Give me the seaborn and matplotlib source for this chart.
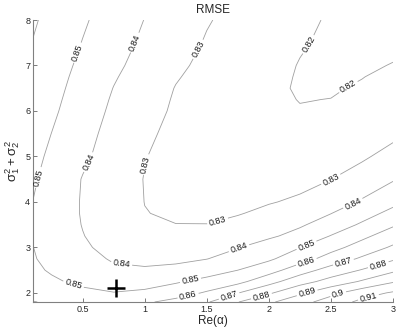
import matplotlib
matplotlib.use("Agg")
import matplotlib.pyplot as plt
import numpy as np
import seaborn as sns

# grid: Re(alpha) along x, sigma1^2+sigma2^2 along y
re_alpha = [0.1, 0.25, 0.5, 0.75, 1.0, 1.25, 1.5, 1.75, 2.0, 2.25, 2.5, 2.75, 3.0]
sigma_sum = [1.8, 2.0, 2.25, 2.5, 2.75, 3.0, 3.25, 3.5, 3.75, 4.0, 4.5, 5.0, 5.5,
             6.0, 6.25, 6.5, 6.75, 7.0, 7.5, 8.0]

# one row per sigma_sum value
rmse_grid = [
    [0.8603, 0.8590, 0.8572, 0.8565, 0.8585, 0.8632, 0.8690, 0.8797, 0.8883, 0.8965, 0.9045, 0.9125, 0.9190],
    [0.8572, 0.8555, 0.8522, 0.8503, 0.8518, 0.8552, 0.8612, 0.8697, 0.8786, 0.8883, 0.8973, 0.9057, 0.9112],
    [0.8540, 0.8514, 0.8479, 0.8458, 0.8460, 0.8490, 0.8527, 0.8572, 0.8665, 0.8760, 0.8836, 0.8911, 0.8990],
    [0.8518, 0.8490, 0.8451, 0.8414, 0.8411, 0.8424, 0.8458, 0.8500, 0.8560, 0.8655, 0.8740, 0.8806, 0.8880],
    [0.8506, 0.8477, 0.8429, 0.8391, 0.8377, 0.8380, 0.8398, 0.8438, 0.8485, 0.8557, 0.8640, 0.8715, 0.8786],
    [0.8501, 0.8468, 0.8413, 0.8372, 0.8350, 0.8345, 0.8360, 0.8396, 0.8446, 0.8498, 0.8568, 0.8640, 0.8714],
    [0.8494, 0.8461, 0.8403, 0.8360, 0.8330, 0.8318, 0.8325, 0.8352, 0.8385, 0.8432, 0.8504, 0.8578, 0.8650],
    [0.8491, 0.8455, 0.8397, 0.8352, 0.8316, 0.8301, 0.8301, 0.8317, 0.8346, 0.8388, 0.8444, 0.8513, 0.8588],
    [0.8493, 0.8453, 0.8394, 0.8349, 0.8302, 0.8291, 0.8288, 0.8296, 0.8315, 0.8350, 0.8398, 0.8460, 0.8528],
    [0.8499, 0.8452, 0.8394, 0.8346, 0.8299, 0.8285, 0.8281, 0.8285, 0.8296, 0.8310, 0.8358, 0.8410, 0.8475],
    [0.8511, 0.8467, 0.8396, 0.8347, 0.8297, 0.8275, 0.8265, 0.8264, 0.8270, 0.8281, 0.8299, 0.8340, 0.8392],
    [0.8526, 0.8482, 0.8416, 0.8359, 0.8303, 0.8272, 0.8253, 0.8245, 0.8246, 0.8251, 0.8262, 0.8287, 0.8331],
    [0.8540, 0.8499, 0.8430, 0.8370, 0.8317, 0.8276, 0.8250, 0.8235, 0.8228, 0.8229, 0.8238, 0.8253, 0.8280],
    [0.8555, 0.8516, 0.8447, 0.8383, 0.8331, 0.8288, 0.8260, 0.8236, 0.8219, 0.8204, 0.8208, 0.8228, 0.8260],
    [0.8562, 0.8523, 0.8455, 0.8390, 0.8338, 0.8292, 0.8263, 0.8238, 0.8215, 0.8198, 0.8201, 0.8217, 0.8246],
    [0.8569, 0.8530, 0.8463, 0.8398, 0.8346, 0.8297, 0.8267, 0.8240, 0.8213, 0.8194, 0.8193, 0.8208, 0.8233],
    [0.8576, 0.8537, 0.8471, 0.8408, 0.8356, 0.8306, 0.8273, 0.8245, 0.8217, 0.8195, 0.8189, 0.8198, 0.8218],
    [0.8583, 0.8544, 0.8480, 0.8419, 0.8366, 0.8316, 0.8280, 0.8251, 0.8222, 0.8197, 0.8187, 0.8189, 0.8203],
    [0.8597, 0.8559, 0.8497, 0.8438, 0.8383, 0.8336, 0.8293, 0.8264, 0.8235, 0.8206, 0.8188, 0.8179, 0.8182],
    [0.8611, 0.8573, 0.8512, 0.8455, 0.8398, 0.8352, 0.8306, 0.8275, 0.8246, 0.8217, 0.8192, 0.8175, 0.8162],
]

levels = [0.82, 0.83, 0.84, 0.85, 0.86, 0.87, 0.88, 0.89, 0.90, 0.91]

# the marked optimum
best_alpha = [0.77]
best_sigma = [2.1]

# where the contour labels sit
label_spots = [
    (0.46, 7.28), (0.14, 4.54), (0.42, 2.13), (1.37, 2.26), (2.30, 3.07),
    (0.93, 7.49), (0.55, 4.87), (0.81, 2.57), (1.76, 2.98), (2.68, 3.95),
    (1.40, 7.40), (1.01, 4.82), (1.59, 3.55), (2.50, 4.49),
    (2.30, 7.50), (2.65, 6.48),
    (1.35, 1.93), (2.30, 2.70),
    (1.68, 1.93), (2.60, 2.68),
    (1.94, 1.93), (2.88, 2.63),
    (2.31, 1.98), (2.56, 1.96), (2.80, 1.93),
]


def main():
    sns.set_style("ticks")
    plt.rcParams["font.family"] = ["Liberation Sans", "DejaVu Sans"]
    plt.rcParams["mathtext.fontset"] = "custom"
    plt.rcParams["mathtext.rm"] = "Liberation Sans"
    plt.rcParams["mathtext.it"] = "Liberation Sans"

    fig = plt.figure(figsize=(3.99, 3.30), dpi=100)
    ax = fig.add_axes([33 / 399, 28 / 330, 360 / 399, 282 / 330])

    rmse = np.array(rmse_grid)
    cs = ax.contour(re_alpha, sigma_sum, rmse, levels=levels, colors="#a0a0a0", linewidths=0.6)
    ax.clabel(cs, fmt=lambda v: f"{v:g}", fontsize=6.5, colors="#1a1a1a",
              inline=True, inline_spacing=2, manual=label_spots)

    sns.scatterplot(x=best_alpha, y=best_sigma, marker="+", s=160, color="black",
                    linewidth=1.8, ax=ax, zorder=5)

    ax.set_xlim(0.1, 3)
    ax.set_ylim(1.8, 8)
    ax.set_xticks([0.5, 1, 1.5, 2, 2.5, 3])
    ax.set_xticklabels(["0.5", "1", "1.5", "2", "2.5", "3"])
    ax.set_yticks([2, 3, 4, 5, 6, 7, 8])
    ax.tick_params(direction="in", length=3, width=0.6, labelsize=6.5, color="#666666", pad=2)
    for side in ["left", "bottom"]:
        ax.spines[side].set_color("#808080")
        ax.spines[side].set_linewidth(0.8)
    sns.despine(ax=ax)

    ax.set_title("RMSE", fontsize=8.5, pad=5)
    ax.set_xlabel("Re(α)", fontsize=8.5, labelpad=1)
    ax.set_ylabel(r"$\sigma_1^2+\sigma_2^2$", fontsize=9.5, labelpad=2)

    fig.savefig("out.png", dpi=100)


if __name__ == "__main__":
    main()
